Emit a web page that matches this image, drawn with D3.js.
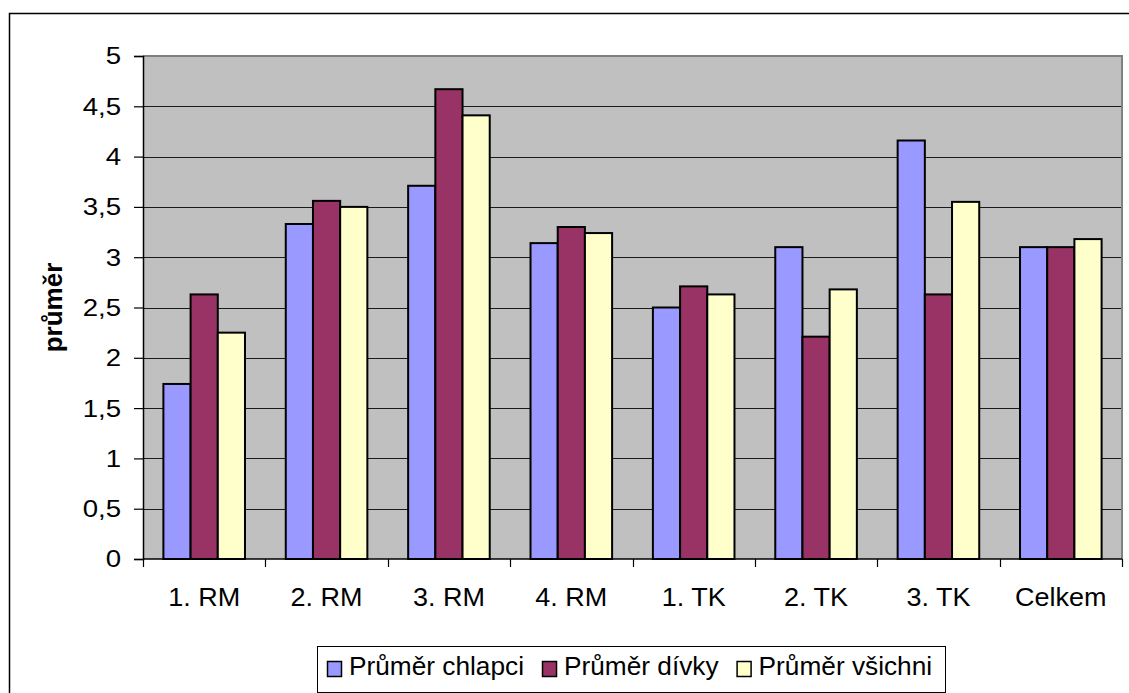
<!DOCTYPE html>
<html>
<head>
<meta charset="utf-8">
<script src="https://cdn.jsdelivr.net/npm/d3@7"></script>
<style>
  html, body { margin: 0; padding: 0; background: #fff; }
  svg { display: block; font-family: "Liberation Sans", Arial, sans-serif; }
</style>
</head>
<body>
<svg id="chart" width="1129" height="693"></svg>
<script>
// Average scores per class group
const categories = ["1. RM", "2. RM", "3. RM", "4. RM", "1. TK", "2. TK", "3. TK", "Celkem"];
const seriesNames = ["Průměr chlapci", "Průměr dívky", "Průměr všichni"];
const chlapci = [1.74, 3.33, 3.71, 3.14, 2.50, 3.10, 4.16, 3.10];
const divky   = [2.63, 3.56, 4.67, 3.30, 2.71, 2.21, 2.63, 3.10];
const vsichni = [2.25, 3.50, 4.41, 3.24, 2.63, 2.68, 3.55, 3.18];
const yTicks = [0, 0.5, 1, 1.5, 2, 2.5, 3, 3.5, 4, 4.5, 5];
const colors = ["#9999FF", "#993366", "#FFFFCC"];
const yTitle = "průměr";

const seriesValues = [chlapci, divky, vsichni];
const rows = categories.map((c, i) => ({
  cat: c,
  vals: seriesNames.map((s, k) => ({ key: s, value: seriesValues[k][i], color: colors[k] }))
}));

const svg = d3.select("#chart");
const plot = { left: 143, top: 56, right: 1122, bottom: 559 };

// outer chart frame
svg.append("rect")
  .attr("x", 9.5).attr("y", 13.5)
  .attr("width", 1140).attr("height", 700)
  .attr("fill", "#fff").attr("stroke", "#000").attr("stroke-width", 1.5);

const x0 = d3.scaleBand().domain(categories).range([plot.left, plot.right]).padding(0);
const x1 = d3.scaleBand().domain(seriesNames).range([0, x0.bandwidth()])
  .paddingInner(0).paddingOuter(0.75);
const y = d3.scaleLinear().domain([0, 5]).range([plot.bottom, plot.top]);

// plot background
svg.append("rect")
  .attr("x", plot.left).attr("y", plot.top)
  .attr("width", plot.right - plot.left).attr("height", plot.bottom - plot.top)
  .attr("fill", "#C0C0C0");

// horizontal gridlines
svg.append("g").selectAll("line")
  .data(yTicks.filter(t => t > 0 && t < 5))
  .join("line")
  .attr("x1", plot.left).attr("x2", plot.right)
  .attr("y1", d => Math.round(y(d)) + 0.5).attr("y2", d => Math.round(y(d)) + 0.5)
  .attr("stroke", "#1a1a1a").attr("stroke-width", 1.2);

// plot border (top and right)
svg.append("path")
  .attr("d", `M${plot.left},${plot.top}H${plot.right}V${plot.bottom}`)
  .attr("fill", "none").attr("stroke", "#808080").attr("stroke-width", 2);

// bars
const groups = svg.append("g").selectAll("g")
  .data(rows).join("g")
  .attr("transform", d => `translate(${x0(d.cat)},0)`);
groups.selectAll("rect")
  .data(d => d.vals).join("rect")
  .attr("x", d => x1(d.key))
  .attr("y", d => y(d.value))
  .attr("width", x1.bandwidth())
  .attr("height", d => y(0) - y(d.value))
  .attr("fill", d => d.color)
  .attr("stroke", "#000").attr("stroke-width", 2);

// y axis
const yAxis = svg.append("g")
  .attr("transform", `translate(${plot.left},0)`)
  .call(d3.axisLeft(y).tickValues(yTicks).tickSize(9).tickPadding(0)
    .tickFormat(d => String(d).replace(".", ",")));
yAxis.select(".domain").attr("stroke", "#000").attr("stroke-width", 1.5);
yAxis.selectAll(".tick line").attr("stroke", "#000").attr("stroke-width", 1.2);
yAxis.selectAll(".tick text")
  .attr("x", -22 / 1.15).attr("dy", "0.33em")
  .attr("transform", "scale(1.15,1)")
  .attr("fill", "#000")
  .style("font-size", "24px")
  .style("font-family", "'Liberation Sans', Arial, sans-serif");

// x axis with ticks between categories
const xAxis = svg.append("g")
  .attr("transform", `translate(0,${plot.bottom})`);
xAxis.append("line")
  .attr("x1", plot.left).attr("x2", plot.right)
  .attr("y1", 0).attr("y2", 0)
  .attr("stroke", "#000").attr("stroke-width", 1.5);
const boundaries = categories.map(c => x0(c)).concat([plot.right]);
xAxis.selectAll(".sep").data(boundaries).join("line")
  .attr("class", "sep")
  .attr("x1", d => Math.round(d) + 0.5).attr("x2", d => Math.round(d) + 0.5)
  .attr("y1", 0).attr("y2", 8)
  .attr("stroke", "#000").attr("stroke-width", 1.2);
xAxis.selectAll(".lbl").data(categories).join("text")
  .attr("class", "lbl")
  .attr("transform", d => `translate(${x0(d) + x0.bandwidth() / 2},47) scale(1.08,1)`)
  .attr("text-anchor", "middle")
  .attr("fill", "#000")
  .style("font-size", "25px")
  .text(d => d);

// y axis title
svg.append("text")
  .attr("transform", `translate(62,${(plot.top + plot.bottom) / 2}) rotate(-90)`)
  .attr("text-anchor", "middle")
  .style("font-size", "26px").style("font-weight", "bold")
  .attr("fill", "#000")
  .text(yTitle);

// legend: entries laid out left to right by measured text width
const legend = svg.append("g");
legend.append("rect")
  .attr("x", 317.5).attr("y", 646.5).attr("width", 628).attr("height", 46)
  .attr("fill", "#fff").attr("stroke", "#000").attr("stroke-width", 1);
const textScale = 1.05;
let cursor = 327;
seriesNames.forEach((name, i) => {
  const item = legend.append("g").attr("transform", `translate(${cursor},0)`);
  item.append("rect")
    .attr("x", 0.5).attr("y", 661.5).attr("width", 14).attr("height", 15)
    .attr("fill", colors[i]).attr("stroke", "#000").attr("stroke-width", 1.5);
  const t = item.append("text")
    .attr("transform", `translate(22,675) scale(${textScale},1)`)
    .attr("fill", "#000")
    .style("font-size", "25px")
    .text(name);
  cursor += 22 + t.node().getComputedTextLength() * textScale + 18;
});
</script>
</body>
</html>
